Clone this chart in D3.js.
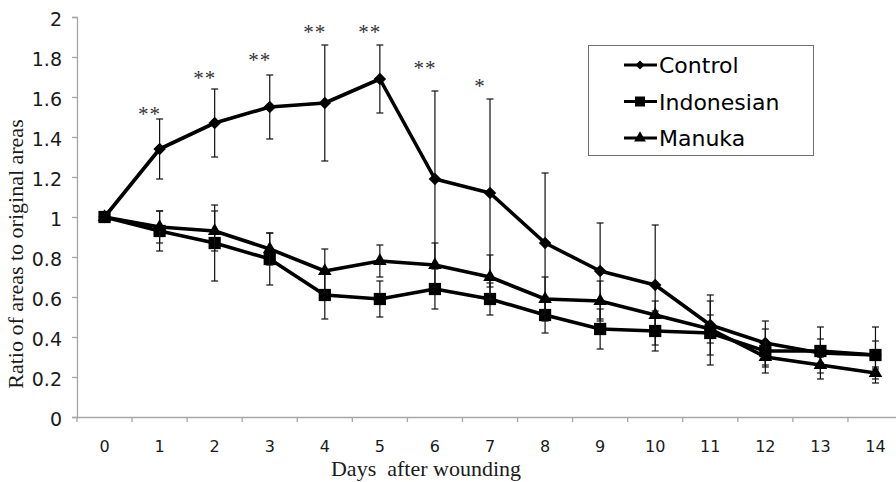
<!DOCTYPE html>
<html>
<head>
<meta charset="utf-8">
<script src="https://cdn.jsdelivr.net/npm/d3@7"></script>
<style>
body { margin: 0; background: #fff; }
svg { display: block; }
</style>
</head>
<body>
<div id="chart"></div>
<script>
// data
var days = [0, 1, 2, 3, 4, 5, 6, 7, 8, 9, 10, 11, 12, 13, 14];
var control = [1.00, 1.34, 1.47, 1.55, 1.57, 1.69, 1.19, 1.12, 0.87, 0.73, 0.66, 0.46, 0.37, 0.32, 0.31];
var controlErr = [0, 0.15, 0.17, 0.16, 0.29, 0.17, 0.44, 0.47, 0.35, 0.24, 0.30, 0.15, 0.11, 0.13, 0.14];
var indonesian = [1.00, 0.93, 0.87, 0.79, 0.61, 0.59, 0.64, 0.59, 0.51, 0.44, 0.43, 0.42, 0.33, 0.33, 0.31];
var indonesianErr = [0, 0.10, 0.19, 0.13, 0.12, 0.09, 0.10, 0.08, 0.09, 0.10, 0.10, 0.16, 0.11, 0.06, 0.07];
var manuka = [1.00, 0.95, 0.93, 0.84, 0.73, 0.78, 0.76, 0.70, 0.59, 0.58, 0.51, 0.44, 0.30, 0.26, 0.22];
var manukaErr = [0, 0.08, 0.10, 0.08, 0.11, 0.08, 0.11, 0.11, 0.11, 0.10, 0.07, 0.07, 0.05, 0.04, 0.03];
var yTicks = [0, 0.2, 0.4, 0.6, 0.8, 1, 1.2, 1.4, 1.6, 1.8, 2];
var sigDays = [1, 2, 3, 4, 5, 6, 7];
var sigLabels = ["**", "**", "**", "**", "**", "**", "*"];
var sigLevels = [1.53, 1.71, 1.80, 1.94, 1.94, 1.76, 1.67];

var series = [
  {name: "Control", values: control, err: controlErr, shape: "diamond"},
  {name: "Indonesian", values: indonesian, err: indonesianErr, shape: "square"},
  {name: "Manuka", values: manuka, err: manukaErr, shape: "triangle"}
];

var width = 896, height = 482;
var svg = d3.select("#chart").append("svg").attr("width", width).attr("height", height);

var x = d3.scaleBand().domain(days).range([77, 903]);
var y = d3.scaleLinear().domain([0, 2]).range([417, 17]);
var cx = function(d) { return x(d) + x.bandwidth() / 2; };

function symbolPath(shape, big) {
  if (shape == "diamond") return d3.symbol(d3.symbolSquare, big ? 78 : 40)();
  if (shape == "square") return d3.symbol(d3.symbolSquare, big ? 150 : 100)();
  return d3.symbol(d3.symbolTriangle, big ? 80 : 60)();
}
function symbolRotate(shape) { return shape == "diamond" ? " rotate(45)" : ""; }

// Y axis
var yAxis = svg.append("g")
    .attr("transform", "translate(77,0)")
    .call(d3.axisLeft(y).tickValues(yTicks).tickSize(5).tickPadding(10).tickFormat(function(d) { return String(d); }));
yAxis.select(".domain").attr("stroke", "#a6a6a6").attr("stroke-width", 1.3);
yAxis.selectAll(".tick line").attr("stroke", "#a6a6a6").attr("stroke-width", 1.3);
yAxis.selectAll(".tick text")
    .attr("font-family", "DejaVu Sans").attr("font-size", 19).attr("fill", "#1a1a1a")
    .attr("dy", "0.45em");

// X axis (category axis, ticks between categories)
var xAxis = svg.append("g")
    .attr("transform", "translate(0,417)")
    .call(d3.axisBottom(x).tickSize(0).tickPadding(24).tickSizeOuter(0));
xAxis.select(".domain").attr("stroke", "#a6a6a6").attr("stroke-width", 1.3);
xAxis.selectAll(".tick text")
    .attr("font-family", "DejaVu Sans").attr("font-size", 16).attr("fill", "#1a1a1a");
xAxis.selectAll("line.sep")
    .data(days.concat(["end"]))
    .enter().append("line")
    .attr("class", "sep")
    .attr("x1", function(d) { return d == "end" ? x.range()[1] : x(d); })
    .attr("x2", function(d) { return d == "end" ? x.range()[1] : x(d); })
    .attr("y1", 0).attr("y2", 5)
    .attr("stroke", "#a6a6a6").attr("stroke-width", 1.3);

// axis titles
svg.append("text")
    .attr("x", 426).attr("y", 476)
    .attr("text-anchor", "middle")
    .attr("font-family", "Liberation Serif").attr("font-size", 22).attr("fill", "#1a1a1a")
    .attr("xml:space", "preserve")
    .text("Days  after wounding");
svg.append("text")
    .attr("transform", "translate(23,254) rotate(-90)")
    .attr("text-anchor", "middle")
    .attr("font-family", "Liberation Serif").attr("font-size", 22).attr("fill", "#1a1a1a")
    .text("Ratio of areas to original areas");

// series: error bars, line, markers
var line = d3.line()
    .x(function(d, i) { return cx(days[i]); })
    .y(function(d) { return y(d); });

series.forEach(function(s) {
  var g = svg.append("g");
  var eb = g.selectAll("g.eb")
      .data(days.filter(function(d, i) { return s.err[i] > 0; }))
      .enter().append("g").attr("class", "eb");
  eb.append("line")
      .attr("x1", cx).attr("x2", cx)
      .attr("y1", function(d) { return y(s.values[d] + s.err[d]); })
      .attr("y2", function(d) { return y(s.values[d] - s.err[d]); })
      .attr("stroke", "#111").attr("stroke-width", 1.2);
  [1, -1].forEach(function(sign) {
    eb.append("line")
        .attr("x1", function(d) { return cx(d) - 3.5; })
        .attr("x2", function(d) { return cx(d) + 3.5; })
        .attr("y1", function(d) { return y(s.values[d] + sign * s.err[d]); })
        .attr("y2", function(d) { return y(s.values[d] + sign * s.err[d]); })
        .attr("stroke", "#111").attr("stroke-width", 1.2);
  });

  g.append("path")
      .datum(s.values)
      .attr("d", line)
      .attr("fill", "none").attr("stroke", "#000").attr("stroke-width", 3.6)
      .attr("stroke-linejoin", "round");

  g.selectAll("path.mk")
      .data(s.values)
      .enter().append("path")
      .attr("class", "mk")
      .attr("d", symbolPath(s.shape, true))
      .attr("transform", function(d, i) { return "translate(" + cx(days[i]) + "," + y(d) + ")" + symbolRotate(s.shape); })
      .attr("fill", "#000");
});

// significance marks
svg.selectAll("text.sig")
    .data(sigDays)
    .enter().append("text")
    .attr("class", "sig")
    .attr("x", function(d) { return cx(d) - 10; })
    .attr("y", function(d, i) { return y(sigLevels[i]) + 10; })
    .attr("text-anchor", "middle")
    .attr("font-family", "Liberation Serif").attr("font-size", 21).attr("fill", "#333")
    .attr("letter-spacing", 1)
    .text(function(d, i) { return sigLabels[i]; });

// legend
var legend = svg.append("g").attr("transform", "translate(588,45)");
legend.append("rect")
    .attr("x", 0.5).attr("y", 0.5).attr("width", 225).attr("height", 110)
    .attr("fill", "#fff").attr("stroke", "#6e6e6e").attr("stroke-width", 1);
var item = legend.selectAll("g.item")
    .data(series)
    .enter().append("g")
    .attr("class", "item")
    .attr("transform", function(d, i) { return "translate(0," + (20 + i * 36.5) + ")"; });
item.append("line")
    .attr("x1", 36).attr("x2", 69).attr("y1", 0).attr("y2", 0)
    .attr("stroke", "#000").attr("stroke-width", 3.2);
item.append("path")
    .attr("d", function(d) { return symbolPath(d.shape, false); })
    .attr("transform", function(d) { return "translate(52,0)" + symbolRotate(d.shape); })
    .attr("fill", "#000");
item.append("text")
    .attr("x", 71).attr("y", 8)
    .attr("font-family", "DejaVu Sans").attr("font-size", 22).attr("fill", "#000")
    .text(function(d) { return d.name; });
</script>
</body>
</html>
